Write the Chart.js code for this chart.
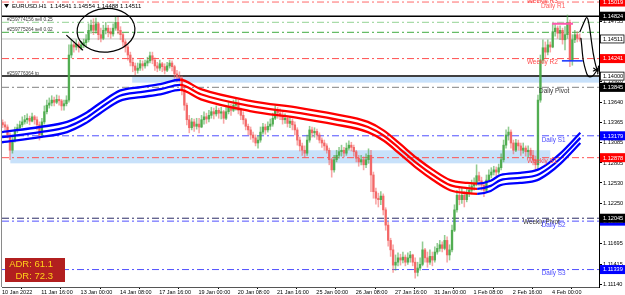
<!DOCTYPE html>
<html><head><meta charset="utf-8">
<script src="https://cdn.jsdelivr.net/npm/chart.js@4/dist/chart.umd.min.js"></script>
<style>html,body{margin:0;padding:0;background:#fff;overflow:hidden}</style>
</head><body>
<canvas id="c" width="625" height="295"></canvas>
<script>
// ---------------- DATA ----------------
const symbolHeader = 'EURUSD.H1  1.14541 1.14554 1.14488 1.14511';
const timeLabels = ['10 Jan 2022','11 Jan 16:00','13 Jan 00:00','14 Jan 08:00','17 Jan 16:00','19 Jan 00:00','20 Jan 08:00','21 Jan 16:00','25 Jan 00:00','26 Jan 08:00','27 Jan 16:00','31 Jan 00:00','1 Feb 08:00','2 Feb 16:00','4 Feb 00:00'];
const TICK_BARS = 32;          // H1 bars between time labels
const BAR_HOURS = 2;           // each drawn candle = 2 hours
const priceTicks = [1.14755,1.14475,1.14195,1.13920,1.13640,1.13365,1.13085,1.12805,1.12530,1.12250,1.11975,1.11695,1.11415,1.11140];

const firstOpen = 1.1336;
const candleClose = [
1.1333,1.1330,1.1319,1.1298,1.1312,1.1326,1.1329,1.1333,1.1337,1.1340,
1.1342,1.1338,1.1344,1.1340,1.1333,1.1319,1.1337,1.1351,1.1360,1.1363,
1.1367,1.1364,1.1368,1.1366,1.1359,1.1362,1.1367,1.1429,1.1443,1.1440,
1.1444,1.1439,1.1443,1.1446,1.1450,1.1463,1.1470,1.1463,1.1472,1.1457,
1.1452,1.1463,1.1466,1.1461,1.1458,1.1466,1.1474,1.1463,1.1457,1.1447,
1.1440,1.1429,1.1419,1.1414,1.1408,1.1411,1.1417,1.1414,1.1418,1.1421,
1.1428,1.1422,1.1414,1.1411,1.1417,1.1413,1.1408,1.1414,1.1418,1.1413,
1.1403,1.1399,1.1397,1.1381,1.1360,1.1340,1.1329,1.1337,1.1331,1.1334,
1.1330,1.1340,1.1344,1.1341,1.1346,1.1351,1.1348,1.1353,1.1349,1.1351,
1.1342,1.1351,1.1357,1.1353,1.1360,1.1363,1.1353,1.1346,1.1340,1.1331,
1.1326,1.1319,1.1315,1.1308,1.1312,1.1323,1.1330,1.1326,1.1331,1.1334,
1.1342,1.1353,1.1349,1.1345,1.1340,1.1342,1.1335,1.1338,1.1333,1.1326,
1.1312,1.1304,1.1298,1.1294,1.1312,1.1326,1.1322,1.1324,1.1319,1.1312,
1.1308,1.1304,1.1298,1.1285,1.1271,1.1285,1.1291,1.1296,1.1298,1.1294,
1.1301,1.1305,1.1302,1.1296,1.1287,1.1282,1.1285,1.1278,1.1285,1.1291,
1.1264,1.1241,1.1232,1.1230,1.1235,1.1216,1.1195,1.1174,1.1161,1.1140,
1.1144,1.1150,1.1147,1.1151,1.1144,1.1150,1.1154,1.1144,1.1130,1.1136,
1.1141,1.1161,1.1150,1.1144,1.1152,1.1147,1.1158,1.1163,1.1168,1.1163,
1.1174,1.1154,1.1161,1.1188,1.1216,1.1236,1.1230,1.1236,1.1230,1.1239,
1.1243,1.1249,1.1252,1.1263,1.1256,1.1250,1.1243,1.1257,1.1264,1.1268,
1.1271,1.1268,1.1274,1.1285,1.1305,1.1319,1.1323,1.1308,1.1298,1.1308,
1.1304,1.1298,1.1301,1.1296,1.1298,1.1291,1.1285,1.1278,1.1367,1.1422,
1.1439,1.1433,1.1443,1.1440,1.1461,1.1466,1.1459,1.1463,1.1450,1.1457,
1.1474,1.1422,1.1450,1.1457,1.1452,1.1451];
const candleHigh = [
1.1340,1.1337,1.1333,1.1322,1.1319,1.1330,1.1334,1.1338,1.1344,1.1346,
1.1348,1.1345,1.1349,1.1346,1.1344,1.1337,1.1342,1.1359,1.1367,1.1370,
1.1373,1.1371,1.1374,1.1373,1.1368,1.1367,1.1373,1.1443,1.1450,1.1447,
1.1450,1.1447,1.1448,1.1451,1.1457,1.1472,1.1477,1.1479,1.1480,1.1474,
1.1466,1.1470,1.1474,1.1470,1.1466,1.1472,1.1481,1.1481,1.1468,1.1459,
1.1450,1.1443,1.1433,1.1425,1.1418,1.1418,1.1422,1.1421,1.1422,1.1426,
1.1433,1.1433,1.1425,1.1419,1.1422,1.1419,1.1417,1.1419,1.1422,1.1421,
1.1415,1.1408,1.1406,1.1400,1.1384,1.1363,1.1346,1.1342,1.1341,1.1342,
1.1342,1.1346,1.1351,1.1349,1.1353,1.1357,1.1356,1.1359,1.1356,1.1357,
1.1353,1.1359,1.1364,1.1362,1.1367,1.1368,1.1367,1.1356,1.1351,1.1342,
1.1334,1.1330,1.1323,1.1319,1.1318,1.1330,1.1335,1.1334,1.1337,1.1341,
1.1349,1.1359,1.1357,1.1355,1.1351,1.1348,1.1345,1.1344,1.1341,1.1337,
1.1329,1.1316,1.1308,1.1304,1.1319,1.1331,1.1330,1.1329,1.1327,1.1322,
1.1315,1.1312,1.1307,1.1301,1.1287,1.1291,1.1298,1.1302,1.1305,1.1302,
1.1308,1.1311,1.1309,1.1305,1.1298,1.1291,1.1291,1.1289,1.1293,1.1300,
1.1298,1.1268,1.1246,1.1239,1.1241,1.1238,1.1219,1.1199,1.1177,1.1168,
1.1154,1.1157,1.1155,1.1158,1.1154,1.1157,1.1159,1.1155,1.1150,1.1144,
1.1150,1.1172,1.1163,1.1158,1.1161,1.1158,1.1165,1.1170,1.1174,1.1172,
1.1181,1.1179,1.1168,1.1195,1.1223,1.1243,1.1247,1.1246,1.1241,1.1246,
1.1250,1.1257,1.1260,1.1278,1.1268,1.1261,1.1254,1.1264,1.1271,1.1274,
1.1276,1.1275,1.1279,1.1293,1.1312,1.1326,1.1330,1.1326,1.1312,1.1313,
1.1312,1.1308,1.1308,1.1304,1.1304,1.1301,1.1298,1.1290,1.1374,1.1429,
1.1450,1.1447,1.1450,1.1447,1.1472,1.1473,1.1469,1.1469,1.1466,1.1468,
1.1484,1.1477,1.1457,1.1463,1.1461,1.1458];
const candleLow = [
1.1329,1.1326,1.1315,1.1285,1.1294,1.1309,1.1322,1.1326,1.1330,1.1334,
1.1335,1.1333,1.1337,1.1334,1.1326,1.1312,1.1316,1.1334,1.1348,1.1356,
1.1359,1.1359,1.1362,1.1360,1.1353,1.1353,1.1359,1.1364,1.1425,1.1433,
1.1436,1.1433,1.1436,1.1439,1.1441,1.1447,1.1459,1.1457,1.1459,1.1450,
1.1447,1.1450,1.1458,1.1454,1.1452,1.1455,1.1463,1.1458,1.1450,1.1441,
1.1433,1.1422,1.1414,1.1406,1.1402,1.1404,1.1408,1.1408,1.1411,1.1414,
1.1418,1.1417,1.1408,1.1406,1.1408,1.1406,1.1403,1.1406,1.1411,1.1407,
1.1397,1.1392,1.1392,1.1374,1.1353,1.1333,1.1322,1.1326,1.1324,1.1327,
1.1322,1.1329,1.1334,1.1335,1.1337,1.1342,1.1341,1.1345,1.1342,1.1341,
1.1335,1.1340,1.1348,1.1346,1.1351,1.1353,1.1348,1.1340,1.1334,1.1326,
1.1319,1.1313,1.1309,1.1304,1.1301,1.1309,1.1320,1.1320,1.1323,1.1326,
1.1331,1.1340,1.1342,1.1340,1.1334,1.1335,1.1330,1.1329,1.1326,1.1319,
1.1305,1.1297,1.1291,1.1289,1.1291,1.1309,1.1316,1.1316,1.1313,1.1308,
1.1302,1.1298,1.1294,1.1278,1.1261,1.1268,1.1282,1.1287,1.1290,1.1289,
1.1291,1.1298,1.1297,1.1290,1.1282,1.1276,1.1278,1.1271,1.1274,1.1280,
1.1241,1.1232,1.1224,1.1220,1.1223,1.1209,1.1188,1.1166,1.1152,1.1130,
1.1133,1.1139,1.1140,1.1143,1.1139,1.1141,1.1144,1.1139,1.1122,1.1125,
1.1133,1.1139,1.1144,1.1137,1.1141,1.1139,1.1144,1.1155,1.1159,1.1158,
1.1161,1.1144,1.1147,1.1158,1.1186,1.1213,1.1223,1.1225,1.1220,1.1227,
1.1234,1.1238,1.1243,1.1249,1.1249,1.1243,1.1234,1.1241,1.1256,1.1260,
1.1264,1.1263,1.1265,1.1271,1.1282,1.1301,1.1312,1.1301,1.1293,1.1296,
1.1298,1.1291,1.1294,1.1290,1.1289,1.1287,1.1278,1.1271,1.1271,1.1364,
1.1418,1.1425,1.1429,1.1433,1.1439,1.1455,1.1452,1.1450,1.1444,1.1436,
1.1452,1.1413,1.1415,1.1446,1.1447,1.1448];

// moving-average envelope (3 lines), sampled at H1 bar index
const maIdx   = [0,31,53,68,80,96,113,129,145,162,202,243,270,298,311,324,338,351,365,379,387,398,406,422,436,445,455,471];
const maUpper = [1.1323,1.1330,1.1337,1.1349,1.1363,1.1380,1.1385,1.1389,1.1395,1.1382,1.1366,1.1356,1.1348,1.1337,1.1325,1.1307,1.1287,1.1271,1.1257,1.1253,1.1252,1.1256,1.1264,1.1267,1.1271,1.1280,1.1294,1.1322];
const maMid   = [1.1316,1.1323,1.1330,1.1342,1.1356,1.1373,1.1378,1.1382,1.1388,1.1375,1.1359,1.1349,1.1341,1.1330,1.1318,1.1300,1.1280,1.1264,1.1250,1.1246,1.1245,1.1249,1.1257,1.1260,1.1264,1.1273,1.1287,1.1315];
const maLower = [1.1309,1.1316,1.1323,1.1335,1.1349,1.1366,1.1371,1.1375,1.1381,1.1368,1.1352,1.1342,1.1334,1.1323,1.1311,1.1293,1.1273,1.1257,1.1243,1.1239,1.1238,1.1242,1.1250,1.1253,1.1257,1.1266,1.1280,1.1308];

// horizontal levels
const levelPrice = [1.1508,1.15019,1.14824,1.14740,1.14602,1.14511,1.14241,1.14000,1.13845,1.13179,1.12878,1.12045,1.12005,1.11339];
const levelKind  = ['weekly','dailyR','order','entryLight','entry','bid','weekly','order','pivot','dailyS','weekly','wpivot','dailyS','dailyS'];

// pivot names
const pivotText  = ['Weekly R3','Daily R1','Weekly R2','Daily Pivot','Daily S1','Weekly S1','Weekly Pivot','Daily S2','Daily S3'];
const pivotPrice = [1.1508,1.15019,1.14241,1.13845,1.13179,1.12878,1.12045,1.12005,1.11339];
const pivotIdx   = [427.5,439,427.5,437.4,439.5,427.5,424.3,439.5,439.5];
const pivotKind  = ['weekly','dailyR','weekly','pivot','dailyS','weekly','wpivot','dailyS','dailyS'];

// order labels
const orderText  = ['#259774156 sell 0.25','#259775264 sell 0.02','#259776364 tp'];
const orderPrice = [1.14740,1.14602,1.14000];
const orderIdx   = [4,4,4];

// axis price markers
const markPrice = [1.15019,1.14824,1.14511,1.14241,1.14000,1.13845,1.13179,1.12878,1.12005,1.12045,1.11339];
const markKind  = ['red','black','white','red','white','black','blue','red','blue','black','blue'];

// zones (H1 index range, price range)
const zoneStart = [106, 6.8];
const zoneEnd   = [486.2, 446.5];
const zoneTop   = [1.1399, 1.1298];
const zoneBot   = [1.1391, 1.1280];

// short trade lines
const segStart = [448, 456];
const segEnd   = [465, 473];
const segPrice = [1.1472, 1.1421];
const segKind  = ['pink','blue'];

// hand drawn marks (H1 index, price)
const ellipseCenter = [84.7, 1.1463];
const ellipseRadius = [23.6, 0.0030];
const tailIdx = [52.7, 65.7], tailPrice = [1.1456, 1.1436];
const arrow1Idx = [470.7,474.0,476.4,478.0,479.6,481.3,483.7,485.3];
const arrow1Price = [1.1461,1.1474,1.1483,1.1473,1.1454,1.1432,1.1413,1.1407];
const arrow2Idx = [471.5,472.3,473.1,475.6,477.2,480.5,483.0,485.3];
const arrow2Price = [1.1452,1.1440,1.1422,1.1406,1.1399,1.1399,1.1404,1.1410];

const adrText = ['ADR: 61.1', 'DR: 72.3'];

// ---------------- STYLES ----------------
const X_MAX = 486.2, Y_MIN = 1.11099, Y_MAX = 1.15047;
const UP = 'rgba(72,168,72,0.9)', DOWN = 'rgba(242,92,92,0.85)';
const UPW = 'rgba(72,168,72,0.6)', DOWNW = 'rgba(242,92,92,0.55)';
const BLUE = '#0000ff', RED = '#ff0000';
const DASHDOT = [7,3,2,3];
const levelStyle = {
  weekly:{color:'#ff5050', dash:DASHDOT, w:1},
  dailyR:{color:'#ff6a6a', dash:DASHDOT, w:1},
  order:{color:'#000000', dash:[], w:1.5},
  entryLight:{color:'#a9dba9', dash:DASHDOT, w:1.2},
  entry:{color:'#66bb66', dash:DASHDOT, w:1.2},
  bid:{color:'#c4c4c4', dash:[], w:1},
  pivot:{color:'#9a9a9a', dash:DASHDOT, w:1.2},
  dailyS:{color:'#5050ff', dash:DASHDOT, w:1},
  wpivot:{color:'#2a2a66', dash:DASHDOT, w:1}
};
const textColor = {weekly:'#ff4a4a', dailyR:'#ff6060', pivot:'#333333', dailyS:'#4a4aff', wpivot:'#333333'};
const markStyle = {red:['#ff0000','#ffffff'], black:['#000000','#ffffff'], blue:['#0000ff','#ffffff'], white:['#ffffff','#000000']};
const segStyle = {pink:['#ff5ab0',2], blue:['#1e3cff',1.6]};
const FONT = "'Liberation Sans', Arial, sans-serif";

// ---------------- BUILD ----------------
const candleIdx = candleClose.map((_, k) => k * BAR_HOURS + 0.5);
const candleOpen = candleClose.map((c, k) => k === 0 ? firstOpen : candleClose[k - 1]);
const isUp = k => candleClose[k] >= candleOpen[k];
const wickData = candleIdx.map((x, k) => ({x, y:[Math.min(candleLow[k], candleOpen[k], candleClose[k]), Math.max(candleHigh[k], candleOpen[k], candleClose[k])]}));
const bodyData = candleIdx.map((x, k) => ({x, y:[candleOpen[k], candleClose[k]]}));

function maSet(vals) {
  return {type:'line', data: maIdx.map((x, i) => ({x, y: vals[i]})), borderColor: BLUE, borderWidth: 2.3,
    pointRadius: 0, cubicInterpolationMode: 'monotone', order: 0,
    segment: {borderColor: c => c.p1.parsed.y >= c.p0.parsed.y ? BLUE : RED}};
}
const levelSets = levelPrice.map((p, i) => {
  const s = levelStyle[levelKind[i]];
  return {type:'line', data:[{x:0, y:p},{x:X_MAX, y:p}], borderColor:s.color, borderWidth:s.w, borderDash:s.dash, pointRadius:0, order:5};
});
const segSets = segPrice.map((p, i) => ({type:'line', data:[{x:segStart[i], y:p},{x:segEnd[i], y:p}],
  borderColor: segStyle[segKind[i]][0], borderWidth: segStyle[segKind[i]][1], pointRadius:0, order:0}));

const datasets = [
  maSet(maUpper), maSet(maMid), maSet(maLower), ...segSets,
  {type:'bar', data: bodyData, grouped:false, barThickness:1.7, minBarLength:1, borderWidth:0, order:1,
   backgroundColor: c => isUp(c.dataIndex) ? UP : DOWN},
  {type:'bar', data: wickData, grouped:false, barThickness:0.9, borderWidth:0, order:2,
   backgroundColor: c => isUp(c.dataIndex) ? UPW : DOWNW},
  ...levelSets
];

function smooth(ctx, pts) {
  ctx.beginPath(); ctx.moveTo(pts[0].x, pts[0].y);
  for (let i = 1; i < pts.length - 1; i++) {
    const mx = (pts[i].x + pts[i+1].x) / 2, my = (pts[i].y + pts[i+1].y) / 2;
    ctx.quadraticCurveTo(pts[i].x, pts[i].y, mx, my);
  }
  const L = pts[pts.length - 1]; ctx.lineTo(L.x, L.y); ctx.stroke();
}
function head(ctx, from, to, size) {
  const a = Math.atan2(to.y - from.y, to.x - from.x);
  ctx.beginPath();
  ctx.moveTo(to.x - size * Math.cos(a - 0.55), to.y - size * Math.sin(a - 0.55));
  ctx.lineTo(to.x, to.y);
  ctx.lineTo(to.x - size * Math.cos(a + 0.55), to.y - size * Math.sin(a + 0.55));
  ctx.stroke();
}

const overlay = {
  id: 'overlay',
  beforeDatasetsDraw(chart) {
    const {ctx, scales: {x, y}} = chart;
    ctx.save();
    ctx.fillStyle = '#c8e1fa';
    zoneStart.forEach((s, i) => {
      const x0 = x.getPixelForValue(s), x1 = x.getPixelForValue(zoneEnd[i]);
      const y0 = y.getPixelForValue(zoneTop[i]), y1 = y.getPixelForValue(zoneBot[i]);
      ctx.fillRect(x0, y0, x1 - x0, y1 - y0);
    });
    ctx.restore();
  },
  afterDatasetsDraw(chart) {
    const {ctx, chartArea: a, scales: {x, y}} = chart;
    ctx.save();
    ctx.beginPath(); ctx.rect(a.left, a.top, a.right - a.left, a.bottom - a.top); ctx.clip();
    // pivot names
    ctx.font = '6.4px ' + FONT; ctx.textBaseline = 'middle'; ctx.textAlign = 'left';
    pivotText.forEach((t, i) => {
      ctx.fillStyle = textColor[pivotKind[i]];
      ctx.fillText(t, x.getPixelForValue(pivotIdx[i]), y.getPixelForValue(pivotPrice[i]) + 4);
    });
    // order labels
    ctx.font = '4.8px ' + FONT; ctx.textBaseline = 'bottom'; ctx.fillStyle = '#3a3a3a';
    orderText.forEach((t, i) => ctx.fillText(t, x.getPixelForValue(orderIdx[i]), y.getPixelForValue(orderPrice[i]) - 0.5));
    // hand drawn ellipse + tail
    ctx.strokeStyle = '#000'; ctx.lineWidth = 1.2; ctx.lineJoin = 'round'; ctx.lineCap = 'round';
    const cx = x.getPixelForValue(ellipseCenter[0]), cy = y.getPixelForValue(ellipseCenter[1]);
    const rx = x.getPixelForValue(ellipseCenter[0] + ellipseRadius[0]) - cx;
    const ry = y.getPixelForValue(ellipseCenter[1] - ellipseRadius[1]) - cy;
    ctx.beginPath(); ctx.ellipse(cx, cy, rx, ry, -0.08, 0, Math.PI * 2); ctx.stroke();
    ctx.beginPath();
    ctx.moveTo(x.getPixelForValue(tailIdx[0]), y.getPixelForValue(tailPrice[0]));
    ctx.lineTo(x.getPixelForValue(tailIdx[1]), y.getPixelForValue(tailPrice[1]));
    ctx.stroke();
    // arrows
    [[arrow1Idx, arrow1Price], [arrow2Idx, arrow2Price]].forEach(([ix, pr]) => {
      const pts = ix.map((v, i) => ({x: x.getPixelForValue(v), y: y.getPixelForValue(pr[i])}));
      smooth(ctx, pts);
      head(ctx, pts[pts.length - 2], pts[pts.length - 1], 5);
    });
    ctx.restore();
  },
  afterDraw(chart) {
    const {ctx, chartArea: a, scales: {y}, width} = chart;
    ctx.save();
    // left frame
    ctx.strokeStyle = '#8a8a8a'; ctx.lineWidth = 1;
    ctx.beginPath(); ctx.moveTo(a.left - 0.5, a.top); ctx.lineTo(a.left - 0.5, a.bottom); ctx.stroke();
    // axis price markers
    ctx.font = '5.6px ' + FONT; ctx.textBaseline = 'middle'; ctx.textAlign = 'left';
    markPrice.forEach((p, i) => {
      const [bg, fg] = markStyle[markKind[i]];
      const py = y.getPixelForValue(p);
      ctx.fillStyle = bg; ctx.fillRect(a.right + 1, py - 4.5, width - a.right - 1, 9);
      if (bg === '#ffffff') { ctx.strokeStyle = '#000'; ctx.lineWidth = 0.8; ctx.strokeRect(a.right + 1.5, py - 4, width - a.right - 2.5, 8); }
      ctx.fillStyle = fg; ctx.fillText(p.toFixed(5), a.right + 4, py + 0.3);
    });
    // header
    ctx.fillStyle = '#000';
    ctx.beginPath(); ctx.moveTo(a.left + 2, 4); ctx.lineTo(a.left + 7, 4); ctx.lineTo(a.left + 4.5, 8); ctx.closePath(); ctx.fill();
    ctx.font = '6px ' + FONT; ctx.textBaseline = 'middle';
    ctx.fillText(symbolHeader, a.left + 10, 6.5);
    // ADR box
    ctx.fillStyle = '#b21f1f'; ctx.fillRect(a.left + 3, 258, 60, 24);
    ctx.fillStyle = '#ffd21a'; ctx.font = '9.5px ' + FONT; ctx.textAlign = 'right';
    ctx.fillText(adrText[0], a.left + 51, 264.5);
    ctx.fillText(adrText[1], a.left + 51, 276);
    ctx.restore();
  }
};

Chart.defaults.font.family = FONT;
new Chart(document.getElementById('c'), {
  type: 'bar',
  data: {datasets},
  options: {
    responsive: false, devicePixelRatio: 1, animation: false, events: [],
    layout: {padding: {left: 2, right: 0, top: 0, bottom: 0}},
    plugins: {legend: {display: false}, tooltip: {enabled: false}, title: {display: false}},
    scales: {
      x: {
        type: 'linear', min: 0, max: X_MAX, offset: false,
        afterBuildTicks: s => { s.ticks = timeLabels.map((_, i) => ({value: i * TICK_BARS})); },
        afterFit: s => { s.height = 8; s.paddingLeft = 0; s.paddingRight = 0; },
        ticks: {autoSkip: false, maxRotation: 0, minRotation: 0, align: 'start', padding: 0, color: '#000',
                font: {size: 5.5}, callback: (v, i) => timeLabels[i]},
        grid: {drawOnChartArea: false, drawTicks: true, tickLength: 2, color: '#000'},
        border: {display: true, color: '#555'}
      },
      y: {
        position: 'right', min: Y_MIN, max: Y_MAX,
        afterBuildTicks: s => { s.ticks = priceTicks.map(v => ({value: v})); },
        afterFit: s => { s.width = 26; s.paddingTop = 0; s.paddingBottom = 0; },
        ticks: {autoSkip: false, padding: 1, color: '#000', font: {size: 5.6}, callback: v => Number(v).toFixed(5)},
        grid: {drawOnChartArea: false, drawTicks: true, tickLength: 3, color: '#000'},
        border: {display: true, color: '#000'}
      }
    }
  },
  plugins: [overlay]
});
</script>
</body></html>
